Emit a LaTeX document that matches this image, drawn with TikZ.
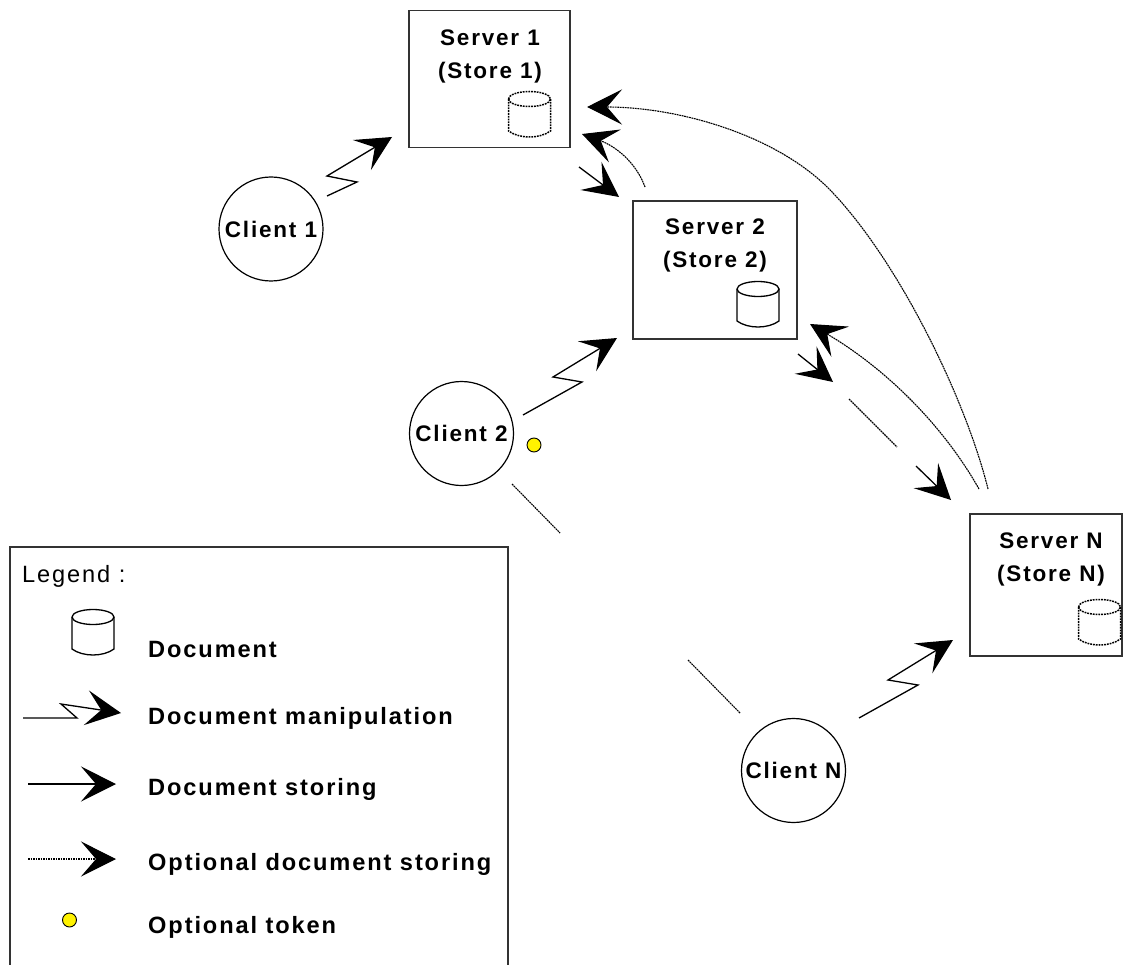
\documentclass[tikz,border=0pt]{standalone}
\usepackage{fontspec}
\setmainfont{Liberation Sans}
\newfontfamily\labelfont[LetterSpace=8]{Liberation Sans}
\usetikzlibrary{arrows.meta}

\tikzset{
  bigtip/.tip={Stealth[length=35pt,width=35pt,inset=15pt]},
  serverbox/.style={draw=black!80,line width=1.3pt,inner sep=0pt},
  clientcircle/.style={draw,circle,line width=1.2pt,inner sep=0pt,minimum size=104pt,
    font=\labelfont\bfseries\fontsize{22.5}{33}\selectfont},
  servertext/.style={align=center,inner sep=0pt,
    font=\labelfont\bfseries\fontsize{22.5}{33}\selectfont},
  legendtext/.style={anchor=base west,inner sep=0pt,
    font=\labelfont\bfseries\fontsize{23.6}{33}\selectfont},
  token/.style={draw,circle,fill=yellow,line width=0.9pt,inner sep=0pt,minimum size=14pt},
  manip/.style={line width=1.3pt,-{bigtip}},
  storing/.style={line width=1.3pt,-{bigtip}},
  optstoring/.style={line width=1.1pt,dash pattern=on 1.8pt off 0.7pt,-{bigtip}},
  optline/.style={line width=1.1pt,dash pattern=on 1.8pt off 0.7pt},
  doc/.pic={
    \draw[pic actions] (-21,-16) arc (180:-180:21 and 7.5);
    \draw[pic actions] (-21,-16) -- (-21,16)
      .. controls (-10,24) and (10,24) .. (21,16) -- (21,-16);
  },
}

\begin{document}
\begin{tikzpicture}[x=1pt,y=-1pt]
\useasboundingbox (0,0) rectangle (1123,965);

% servers
\node[serverbox,minimum width=161pt,minimum height=137pt] (server1) at (489.5,79) {};
\node[serverbox,minimum width=164pt,minimum height=138pt] (server2) at (715,270) {};
\node[serverbox,minimum width=152pt,minimum height=142pt] (serverN) at (1046,585) {};
\node[servertext] (server1text) at (490,56) {Server 1\\(Store 1)};
\node[servertext] (server2text) at (715,245) {Server 2\\(Store 2)};
\node[servertext] (serverNtext) at (1051,559) {Server N\\(Store N)};

% documents
\pic[line width=1.5pt,dash pattern=on 1.8pt off 1pt] (doc1) at (529.5,115) {doc};
\pic[line width=1.3pt] (doc2) at (758,305) {doc};
\pic[line width=1.5pt,dash pattern=on 1.8pt off 1pt] (docN) at (1099.5,623) {doc};

% clients
\node[clientcircle] (client1) at (271,229) {Client 1};
\node[clientcircle] (client2) at (461.5,433.5) {Client 2};
\node[clientcircle] (clientN) at (793.5,770.5) {Client N};
\node[token] (tok) at (534,445) {};

% free ends
\coordinate (c1out) at (327,196);
\coordinate (c1in) at (392,137);
\coordinate (c2out) at (523,415);
\coordinate (c2in) at (617,338);
\coordinate (cNout) at (859,718);
\coordinate (cNin) at (953,640);
\coordinate (s1s2from) at (579,167);
\coordinate (s1s2to) at (619,197);
\coordinate (s2s1from) at (645,187);
\coordinate (s2s1to) at (582,134);
\coordinate (sNs1from) at (988,489);
\coordinate (sNs1via) at (833,193);
\coordinate (sNs1to) at (587,107);
\coordinate (sNs2from) at (979,489);
\coordinate (sNs2to) at (810,324);
\coordinate (s2sNfrom) at (798,354);
\coordinate (s2sNto) at (833,382);
\coordinate (gapAfrom) at (849,399);
\coordinate (gapAto) at (897,447);
\coordinate (gapBfrom) at (916,466);
\coordinate (gapBto) at (951,500);
\coordinate (gapCfrom) at (512,484);
\coordinate (gapCto) at (560,533);
\coordinate (gapDfrom) at (688,660);
\coordinate (gapDto) at (740,713);

% document manipulation
\draw[manip] (c1out) -- ++(30,-14) -- ++(-30,-6) -- (c1in);
\draw[manip] (c2out) -- ++(59,-33) -- ++(-29,-5) -- (c2in);
\draw[manip] (cNout) -- ++(59,-33) -- ++(-30,-5) -- (cNin);

% document storing
\draw[storing] (s1s2from) -- (s1s2to);
\draw[storing] (s2sNfrom) -- (s2sNto);
\draw[storing] (gapBfrom) -- (gapBto);
\draw[optline] (gapAfrom) -- (gapAto);
\draw[optline] (gapCfrom) -- (gapCto);
\draw[optline] (gapDfrom) -- (gapDto);

% optional storing
\draw[optstoring] (s2s1from) .. controls (636,162) and (615,146) .. (s2s1to);
\draw[optstoring] (sNs1from) .. controls (966,400) and (900,264) .. (sNs1via)
  .. controls (780,136) and (680,107) .. (sNs1to);
\draw[optstoring] (sNs2from) .. controls (940,420) and (880,365) .. (sNs2to);

% legend
\draw[line width=1.3pt,draw=black!80] (10,965) -- (10,547) -- (508,547) -- (508,965);
\node[anchor=base west,inner sep=0pt,font=\addfontfeature{LetterSpace=8}\fontsize{23.6}{33}\selectfont] (legendtitle) at (22,582) {Legend :};
\pic[line width=1.3pt] (legdoc) at (93,633) {doc};
\node[legendtext] (leg1) at (148,657) {Document};
\node[legendtext] (leg2) at (148,724) {Document manipulation};
\node[legendtext] (leg3) at (148,795) {Document storing};
\node[legendtext] (leg4) at (148,870) {Optional document storing};
\node[legendtext] (leg5) at (148,933) {Optional token};
\coordinate (lm1) at (23,718);
\coordinate (lm2) at (121,713);
\coordinate (ls1) at (28,784);
\coordinate (ls2) at (116,784);
\coordinate (lo1) at (28,859);
\coordinate (lo2) at (116,859);
\draw[manip] (lm1) -- ++(54,0) -- ++(-16,-14) -- (lm2);
\draw[storing] (ls1) -- (ls2);
\draw[optstoring] (lo1) -- (lo2);
\node[token] (legtok) at (69.5,920) {};

\end{tikzpicture}
\end{document}
